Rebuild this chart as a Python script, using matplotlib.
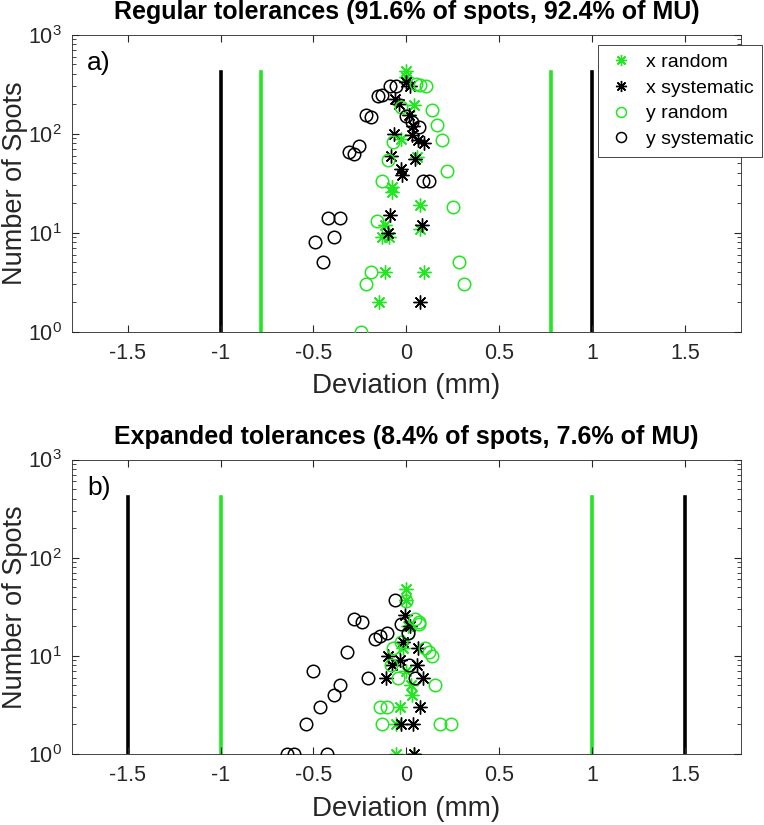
import matplotlib
matplotlib.use("Agg")
import matplotlib.pyplot as plt

plt.rcParams['font.family'] = ['Liberation Sans', 'DejaVu Sans']
plt.rcParams['axes.unicode_minus'] = False

green = '#22e622'

# panel a: regular tolerances
xr_a_dev = [0.0, -0.005, 0.04, -0.03, 0.057, -0.077, -0.077, 0.072, -0.113, -0.13, -0.095, 0.075, -0.113, 0.093, -0.145]
xr_a_n = [430, 370, 195, 88, 58, 29, 26, 19, 12, 9, 9, 11, 4, 4, 2]
xs_a_dev = [-0.005, 0.02, -0.06, -0.04, 0.015, 0.035, -0.065, 0.03, 0.06, 0.095, -0.085, 0.045, -0.03, -0.025, -0.09, 0.085, -0.1, 0.075]
xs_a_n = [330, 300, 225, 200, 155, 120, 100, 97, 86, 80, 60, 55, 44, 38, 15, 12, 10, 2]
yr_a_dev = [0.05, 0.075, 0.105, -0.03, 0.135, 0.165, 0.19, -0.075, -0.1, 0.22, -0.13, 0.25, -0.157, -0.19, -0.217, 0.28, 0.31, -0.247]
yr_a_n = [320, 310, 305, 185, 172, 122, 86, 82, 54, 42, 33, 18, 13, 4, 3, 5, 3, 1]
ys_a_dev = [-0.09, -0.055, -0.155, -0.13, -0.22, -0.19, -0.255, -0.31, -0.28, 0.0, 0.03, 0.065, 0.09, 0.12, -0.42, -0.355, -0.39, -0.49, -0.45]
ys_a_n = [300, 300, 240, 245, 155, 148, 75, 66, 62, 152, 132, 118, 33, 33, 14, 14, 9, 8, 5]

# panel b: expanded tolerances
xr_b_dev = [-0.005, 0.0, 0.01, -0.02, 0.0, 0.027, 0.032, -0.032, -0.054, -0.054, 0.04]
xr_b_n = [48, 37, 20, 12, 7, 5, 4, 3, 2, 1, 1]
xs_b_dev = [-0.009, 0.02, -0.02, 0.063, -0.098, -0.036, 0.057, -0.08, -0.108, 0.09, 0.072, -0.03, 0.036, 0.041]
xs_b_n = [26, 20, 14, 12, 10, 9, 8, 8, 6, 6, 3, 2, 2, 1]
yr_b_dev = [-0.005, 0.045, 0.065, 0.07, 0.01, -0.03, -0.07, 0.1, 0.12, 0.14, -0.085, -0.048, 0.152, -0.143, -0.107, -0.13, 0.18, 0.237]
yr_b_n = [36, 24, 22, 21, 17, 14, 12, 12, 11, 10, 8, 6, 5, 3, 3, 2, 2, 2]
ys_b_dev = [-0.063, -0.28, -0.24, -0.027, -0.17, -0.14, -0.105, 0.01, -0.32, 0.012, -0.505, -0.206, 0.045, -0.355, -0.39, -0.466, -0.54, -0.645, -0.606, -0.426]
ys_b_n = [37, 24, 22, 21, 15, 16, 17, 17, 11, 8, 7, 6, 6, 5, 4, 3, 2, 1, 1, 1]

tol_a = [0.78, 1.0]
tol_b = [1.0, 1.5]
line_top = 420
titles = ['Regular tolerances (91.6% of spots, 92.4% of MU)',
          'Expanded tolerances (8.4% of spots, 7.6% of MU)']
tags = ['a)', 'b)']

fig = plt.figure(figsize=(7.64, 8.25), dpi=100)
ax_a = fig.add_axes([0.094, 0.598, 0.876, 0.36])
ax_b = fig.add_axes([0.094, 0.086, 0.876, 0.357])

panels = [
    (ax_a, tol_a, xr_a_dev, xr_a_n, xs_a_dev, xs_a_n, yr_a_dev, yr_a_n, ys_a_dev, ys_a_n),
    (ax_b, tol_b, xr_b_dev, xr_b_n, xs_b_dev, xs_b_n, yr_b_dev, yr_b_n, ys_b_dev, ys_b_n),
]

ast = (8, 2, 0)
for i, (ax, tol, xrd, xrn, xsd, xsn, yrd, yrn, ysd, ysn) in enumerate(panels):
    for s in [-1, 1]:
        ax.plot([s * tol[0], s * tol[0]], [1, line_top], color=green, lw=2.6, zorder=1)
        ax.plot([s * tol[1], s * tol[1]], [1, line_top], color='black', lw=2.6, zorder=1)
    ax.plot(xrd, xrn, ls='none', marker=ast, ms=10, mec=green, mew=1.0, label='x random', zorder=2)
    ax.plot(xsd, xsn, ls='none', marker=ast, ms=10, mec='black', mew=1.0, label='x systematic', zorder=3)
    ax.plot(yrd, yrn, ls='none', marker='o', ms=9, mfc='none', mec=green, mew=1.1, label='y random', zorder=4)
    ax.plot(ysd, ysn, ls='none', marker='o', ms=9, mfc='none', mec='black', mew=1.1, label='y systematic', zorder=5)

    ax.set_yscale('log')
    ax.set_xlim(-1.8, 1.8)
    ax.set_ylim(1, 1000)
    ax.set_xticks([-1.5, -1, -0.5, 0, 0.5, 1, 1.5])
    ax.set_xticklabels(['-1.5', '-1', '-0.5', '0', '0.5', '1', '1.5'])
    ax.tick_params(which='both', direction='in', top=True, right=True, colors='#262626', labelsize=15.5)
    ax.tick_params(which='major', length=5)
    ax.tick_params(which='minor', length=3)
    ax.tick_params(axis='x', which='both', pad=8)
    ax.tick_params(axis='y', which='both', pad=7)
    for sp in ax.spines.values():
        sp.set_color('#262626')
        sp.set_linewidth(0.6)
    ax.set_xlabel('Deviation (mm)', fontsize=20, color='#262626', labelpad=7)
    ax.set_ylabel('Number of Spots', fontsize=19.5, color='#262626', labelpad=0)
    ax.set_title(titles[i], fontsize=18, fontweight='bold', pad=11)
    ax.text(0.023, 0.905, tags[i], transform=ax.transAxes, fontsize=19, va='center')

leg = ax_a.legend(loc='upper left', bbox_to_anchor=(0.783, 0.946), bbox_transform=fig.transFigure,
                  fontsize=14, frameon=True, fancybox=False, edgecolor='#262626', framealpha=1,
                  handlelength=1.4, handletextpad=0.6, borderpad=0.45, labelspacing=0.42,
                  borderaxespad=0, markerscale=0.8)
leg.get_frame().set_linewidth(0.6)

fig.savefig('out.png', dpi=100)
